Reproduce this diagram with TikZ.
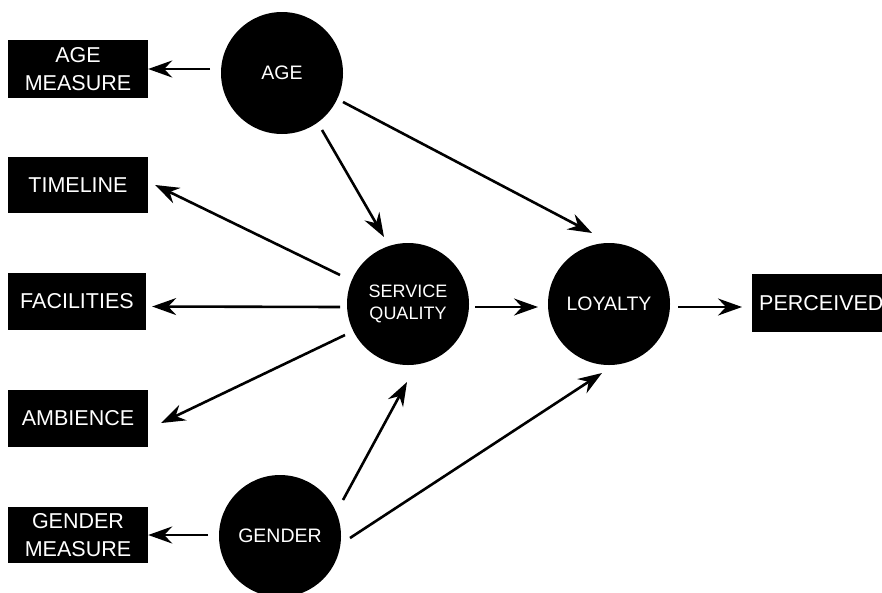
\documentclass[tikz,border=0pt]{standalone}
\usepackage{fontspec}
\setmainfont{Liberation Sans}
\usetikzlibrary{arrows.meta,calc}
\begin{document}
\begin{tikzpicture}[x=1pt,y=-1pt,
  blob/.style={circle,fill=black,text=white,minimum size=122pt,inner sep=0pt,align=center,font=\fontsize{19.5}{22}\selectfont},
  box/.style={rectangle,fill=black,text=white,minimum width=140pt,inner sep=0pt,align=center,font=\fontsize{21.5}{28.5}\selectfont},
  arr/.style={-{Stealth[length=24pt,width=17pt,inset=8pt]},line width=2.6pt}]
\useasboundingbox (0,0) rectangle (882,592);
\fill[white] (0,0) rectangle (882,592);
% boxes
\node[box,minimum height=58pt] (am) at (78,69) {AGE\\MEASURE};
\node[box,minimum height=56pt] (tl) at (78,185) {TIMELINE};
\node[box,minimum height=57pt,minimum width=138pt] (fac) at (77,301.5) {FACILITIES};
\node[box,minimum height=57pt] (amb) at (78,418.5) {AMBIENCE};
\node[box,minimum height=56pt] (gm) at (78,535) {GENDER\\MEASURE};
\node[box,anchor=west,minimum height=58pt,minimum width=0pt,inner xsep=7pt] (per) at (752,303) {PERCEIVED};
% circles
\node[blob] (age) at (282,73) {AGE};
\node[blob,font=\fontsize{18}{21.5}\selectfont] (sq) at (408,304) {SERVICE\\QUALITY};
\node[blob] (loy) at (609,304) {LOYALTY};
\node[blob] (gen) at (280,536) {GENDER};
% connectors
\draw[arr] ($(age)+(-72,-4)$) -- (am.east);
\draw[arr] ($(sq)+(-68,-29)$) -- ($(tl.east)+(7,0)$);
\draw[arr] ($(sq)+(-68,3)$) -- ($(fac.east)+(6,5)$);
\draw[arr] ($(sq)+(-63,31)$) -- ($(amb.east)+(13,4.5)$);
\draw[arr] ($(age)+(40,57)$) -- ($(sq)+(-24,-67)$);
\draw[arr] ($(age)+(61,29)$) -- ($(loy)+(-17,-71)$);
\draw[arr] ($(sq)+(67,3)$) -- ($(loy)+(-71,3)$);
\draw[arr] ($(loy)+(69,3)$) -- ($(per.west)+(-10,4)$);
\draw[arr] ($(gen)+(-72,-1)$) -- (gm.east);
\draw[arr] ($(gen)+(63,-36)$) -- ($(sq)+(-1,78)$);
\draw[arr] ($(gen)+(70,2)$) -- ($(loy)+(-7,69)$);
\end{tikzpicture}
\end{document}
